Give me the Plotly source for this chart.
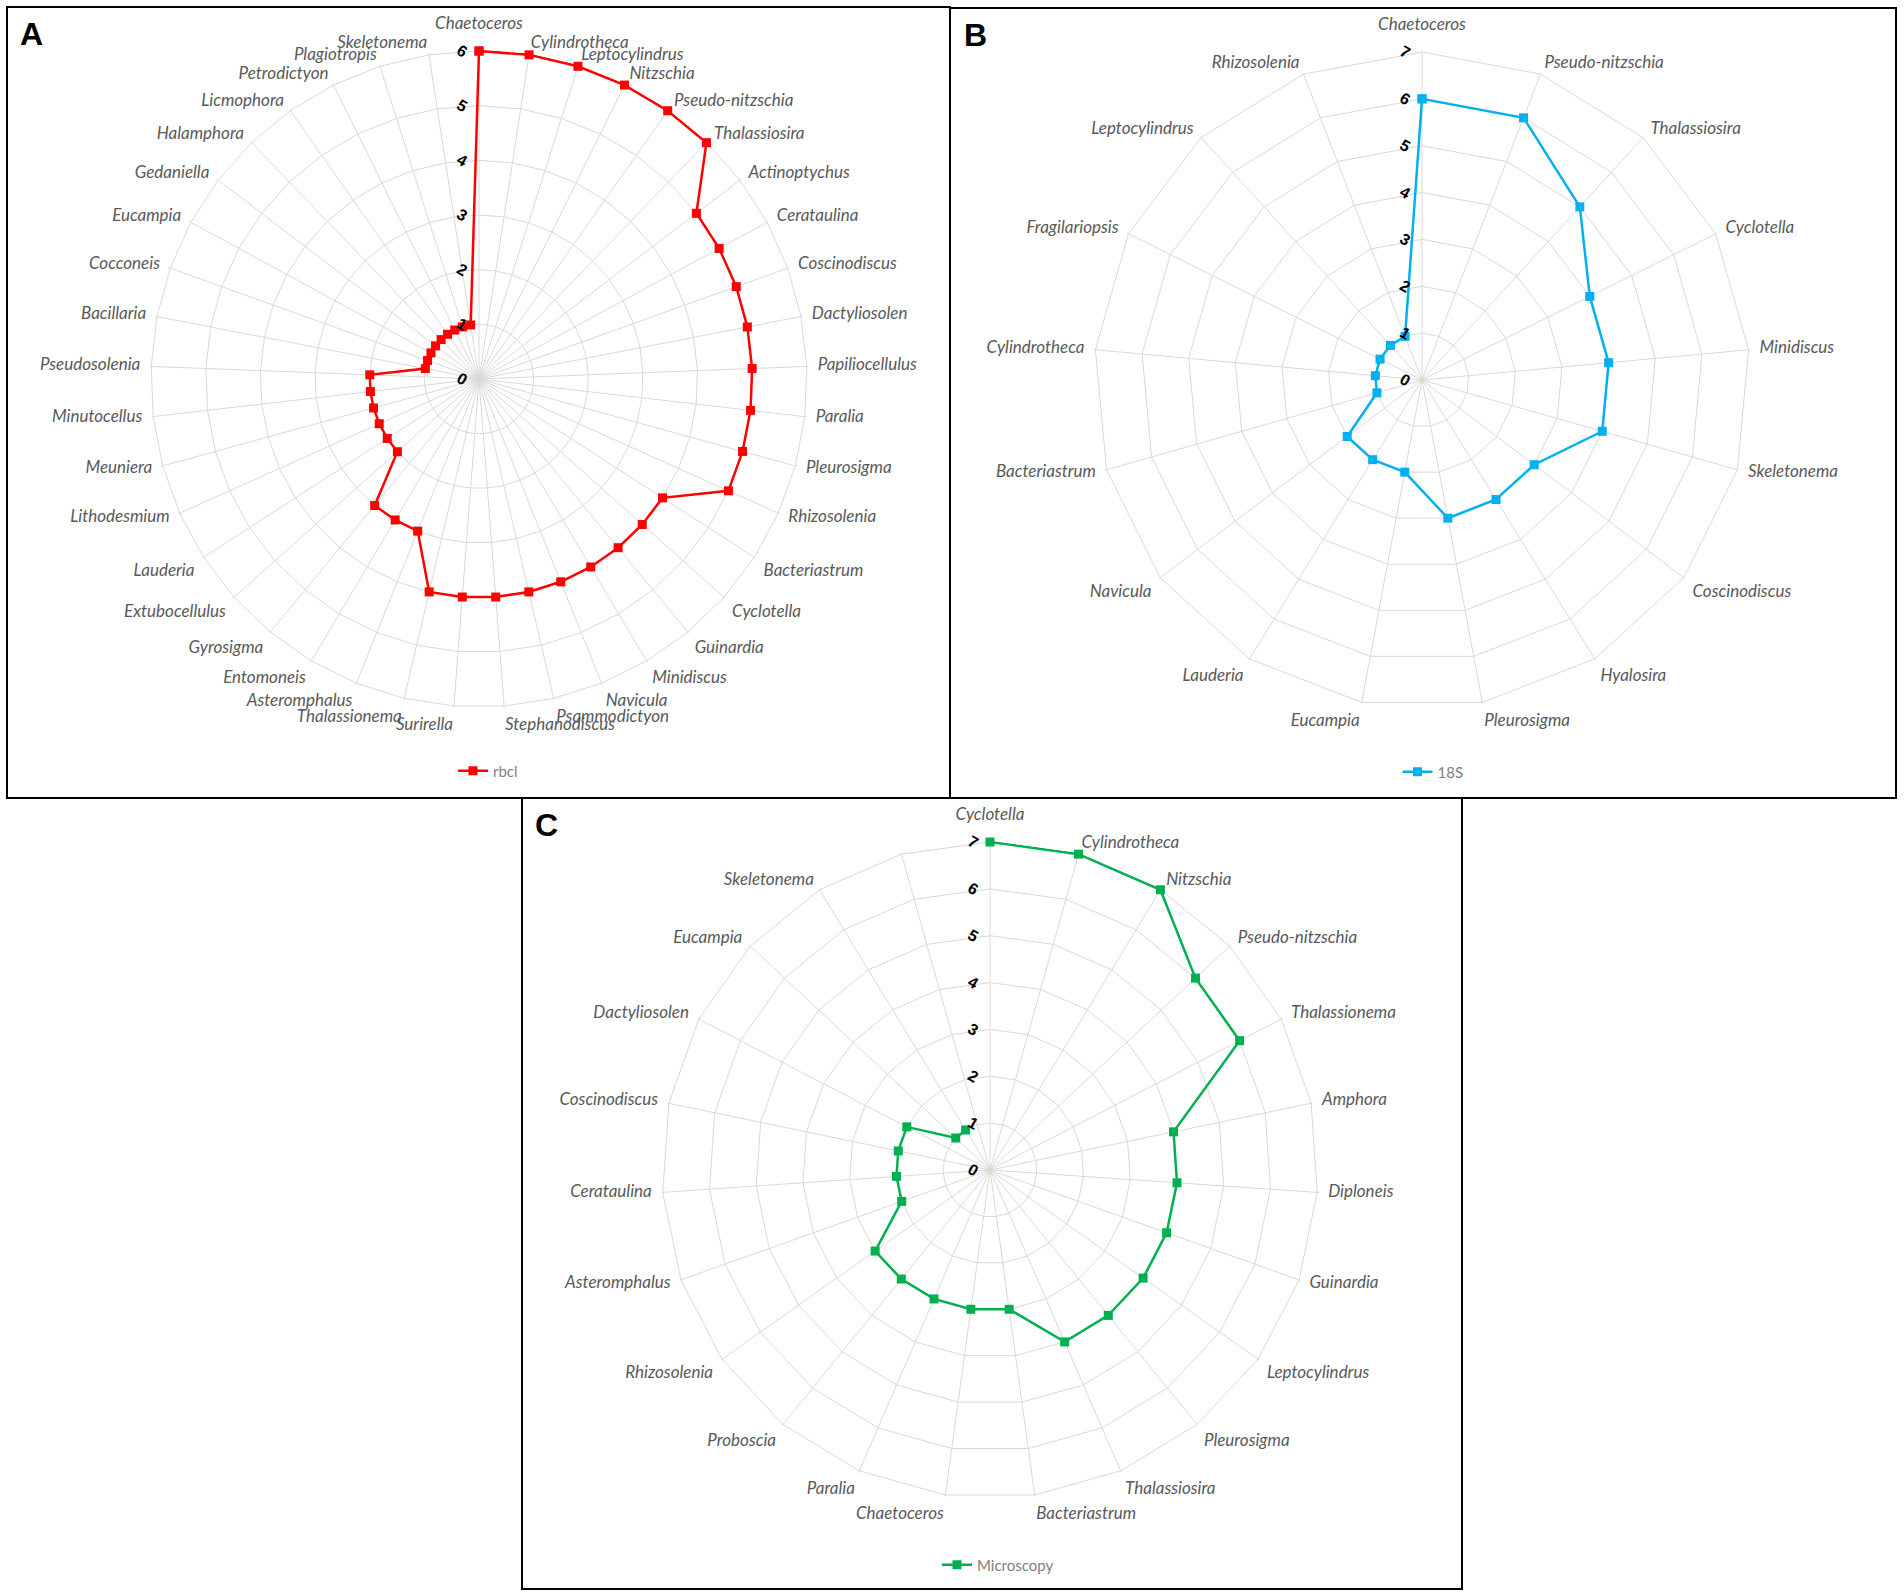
import plotly.graph_objects as go

W, H = 1904, 1596

# ---------------- data ----------------
rbcl_genera = ["Chaetoceros", "Cylindrotheca", "Leptocylindrus", "Nitzschia", "Pseudo-nitzschia",
               "Thalassiosira", "Actinoptychus", "Cerataulina", "Coscinodiscus", "Dactyliosolen",
               "Papiliocellulus", "Paralia", "Pleurosigma", "Rhizosolenia", "Bacteriastrum",
               "Cyclotella", "Guinardia", "Minidiscus", "Navicula", "Psammodictyon",
               "Stephanodiscus", "Surirella", "Thalassionema", "Asteromphalus", "Entomoneis",
               "Gyrosigma", "Extubocellulus", "Lauderia", "Lithodesmium", "Meuniera",
               "Minutocellus", "Pseudosolenia", "Bacillaria", "Cocconeis", "Eucampia",
               "Gedaniella", "Halamphora", "Licmophora", "Petrodictyon", "Plagiotropis",
               "Skeletonema"]
rbcl_values = [6, 6, 6, 6, 6, 6, 5, 5, 5, 5, 5, 5, 5, 5, 4, 4, 4, 4, 4, 4, 4, 4, 4,
               3, 3, 3, 2, 2, 2, 2, 2, 2, 1, 1, 1, 1, 1, 1, 1, 1, 1]

s18_genera = ["Chaetoceros", "Pseudo-nitzschia", "Thalassiosira", "Cyclotella", "Minidiscus",
              "Skeletonema", "Coscinodiscus", "Hyalosira", "Pleurosigma", "Eucampia", "Lauderia",
              "Navicula", "Bacteriastrum", "Cylindrotheca", "Fragilariopsis", "Leptocylindrus",
              "Rhizosolenia"]
s18_values = [6, 6, 5, 4, 4, 4, 3, 3, 3, 2, 2, 2, 1, 1, 1, 1, 1]

micro_genera = ["Cyclotella", "Cylindrotheca", "Nitzschia", "Pseudo-nitzschia", "Thalassionema",
                "Amphora", "Diploneis", "Guinardia", "Leptocylindrus", "Pleurosigma",
                "Thalassiosira", "Bacteriastrum", "Chaetoceros", "Paralia", "Proboscia",
                "Rhizosolenia", "Asteromphalus", "Cerataulina", "Coscinodiscus", "Dactyliosolen",
                "Eucampia", "Skeletonema", " "]
micro_values = [7, 7, 7, 6, 6, 4, 4, 4, 4, 4, 4, 3, 3, 3, 3, 3, 2, 2, 2, 2, 1, 1, None]

series_names = ["rbcl", "18S", "Microscopy"]
series_colors = ["#FF0000", "#00B0F0", "#00B050"]
radial_max = [6, 7, 7]
radial_ticks = [list(range(0, 7)), list(range(0, 8)), list(range(0, 8))]

# ---------------- layout helpers ----------------
def px_x(x):
    return x / W

def px_y(y):
    return 1 - y / H

def domain(cx, cy, r):
    return dict(x=[px_x(cx - r), px_x(cx + r)], y=[px_y(cy + r), px_y(cy - r)])

GRID = "#d9d9d9"
LABEL_FONT = dict(family="Lato", size=17, color="#595959", style="italic")
R_OUT = 328          # pixel radius of the outermost ring
R_LABEL = 339        # pixel radius where category labels are anchored
LABEL_HEAD = 1.05    # radial head-room in the label overlay
PAD = 0.03           # tiny radial head-room so lines on the outer ring aren't clipped
centers = [(479, 379), (1422, 380), (990, 1170)]

def label_position(i, n):
    a = 360.0 * i / n
    if a <= 2 or a >= 358:
        return "top center"
    if a < 120:
        return "middle right"
    if a < 178:
        return "bottom right"
    if a <= 182:
        return "bottom center"
    if a < 240:
        return "bottom left"
    return "middle left"

def label_radius(i, n):
    a = 360.0 * i / n
    return 1.02 if (a <= 2 or a >= 358) else 1.0

def data_polar(center, cats, rmax, ticks):
    return dict(
        domain=domain(center[0], center[1], R_OUT * (rmax + PAD) / rmax),
        bgcolor="white",
        gridshape="linear",
        angularaxis=dict(
            type="category", categoryorder="array", categoryarray=cats,
            direction="clockwise", rotation=90,
            showgrid=True, gridcolor=GRID, gridwidth=1.3,
            showline=False, ticks="", showticklabels=False,
        ),
        radialaxis=dict(
            range=[0, rmax + PAD], tickvals=ticks, ticktext=[str(t) for t in ticks],
            angle=90, side="counterclockwise", tickangle=120,
            showline=False, ticks="",
            showgrid=True, gridcolor=GRID, gridwidth=1.3,
            tickfont=dict(family="Liberation Sans", size=16, color="black", weight="bold"),
        ),
    )

def label_polar(center, cats):
    return dict(
        domain=domain(center[0], center[1], R_LABEL * LABEL_HEAD),
        bgcolor="rgba(0,0,0,0)",
        angularaxis=dict(
            type="category", categoryorder="array", categoryarray=cats,
            direction="clockwise", rotation=90,
            showgrid=False, showline=False, ticks="", showticklabels=False,
        ),
        radialaxis=dict(range=[0, LABEL_HEAD], visible=False, showgrid=False),
    )

fig = go.Figure()

panels = [
    (rbcl_genera, rbcl_values, True),
    (s18_genera, s18_values, True),
    (micro_genera, micro_values, False),
]
legend_ids = ["legend", "legend2", "legend3"]

for k, (cats, vals, closed) in enumerate(panels):
    r = vals + [vals[0]] if closed else vals
    th = cats + [cats[0]] if closed else cats
    fig.add_trace(go.Scatterpolar(
        r=r, theta=th, mode="lines+markers", name=series_names[k],
        line=dict(color=series_colors[k], width=2.5),
        marker=dict(symbol="square", size=9, color=series_colors[k]),
        connectgaps=False, cliponaxis=False,
        subplot="polar" if k == 0 else f"polar{k + 1}",
        legend=legend_ids[k], showlegend=True,
    ))
    n = len(cats)
    fig.add_trace(go.Scatterpolar(
        r=[label_radius(i, n) for i in range(n)], theta=cats, mode="text", text=cats,
        textposition=[label_position(i, n) for i in range(n)],
        textfont=LABEL_FONT, cliponaxis=False,
        showlegend=False, hoverinfo="skip", subplot=f"polar{k + 4}",
    ))

legend_common = dict(
    orientation="h", xanchor="center", yanchor="middle",
    font=dict(family="Lato", size=15, color="#7f7f7f"),
    bgcolor="rgba(0,0,0,0)",
)

frame = dict(type="rect", xref="paper", yref="paper", line=dict(color="black", width=2))
letter_font = dict(family="Liberation Sans", size=32, color="black")
letter_common = dict(xref="paper", yref="paper", xanchor="center", yanchor="middle",
                     showarrow=False, font=letter_font)

fig.update_layout(
    width=W, height=H,
    margin=dict(l=0, r=0, t=0, b=0),
    paper_bgcolor="white",
    showlegend=True,
    polar=data_polar(centers[0], rbcl_genera, radial_max[0], radial_ticks[0]),
    polar2=data_polar(centers[1], s18_genera, radial_max[1], radial_ticks[1]),
    polar3=data_polar(centers[2], micro_genera, radial_max[2], radial_ticks[2]),
    polar4=label_polar(centers[0], rbcl_genera),
    polar5=label_polar(centers[1], s18_genera),
    polar6=label_polar(centers[2], micro_genera),
    legend=dict(x=px_x(488), y=px_y(771), **legend_common),
    legend2=dict(x=px_x(1433), y=px_y(772), **legend_common),
    legend3=dict(x=px_x(998), y=px_y(1565), **legend_common),
    shapes=[
        dict(x0=px_x(7), x1=px_x(950), y0=px_y(798), y1=px_y(7), **frame),
        dict(x0=px_x(950), x1=px_x(1896), y0=px_y(798), y1=px_y(8), **frame),
        dict(x0=px_x(522), x1=px_x(1462), y0=px_y(1589), y1=px_y(798), **frame),
    ],
    annotations=[
        dict(text="<b>A</b>", x=px_x(31), y=px_y(34), **letter_common),
        dict(text="<b>B</b>", x=px_x(976), y=px_y(35), **letter_common),
        dict(text="<b>C</b>", x=px_x(546), y=px_y(825), **letter_common),
    ],
)

fig.write_html("out.html", config={"displayModeBar": False},
               post_script="document.body.style.margin='0px';document.body.style.overflow='hidden';")
